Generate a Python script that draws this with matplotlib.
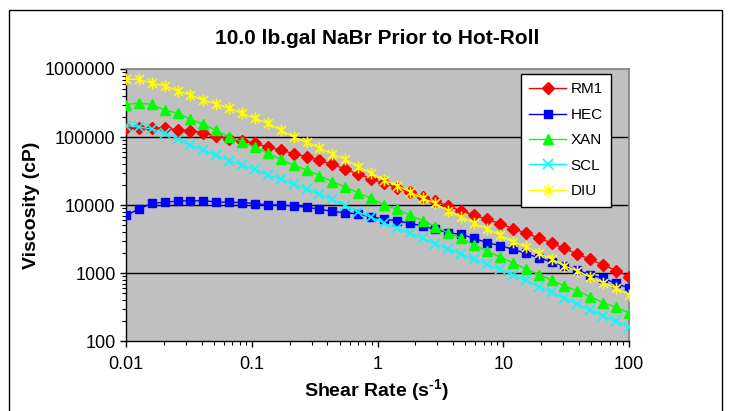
import matplotlib
matplotlib.use("Agg")
import matplotlib.pyplot as plt
from matplotlib.path import Path

plt.rcParams['font.family'] = ['Liberation Sans', 'DejaVu Sans']
plt.rcParams['mathtext.fontset'] = 'custom'
plt.rcParams['mathtext.rm'] = 'Liberation Sans:bold'
plt.rcParams['mathtext.bf'] = 'Liberation Sans:bold'

# ---- data ----
shear_rate = [0.01, 0.012663, 0.016035, 0.020305, 0.025713, 0.032561, 0.041232,
              0.052214, 0.066119, 0.083729, 0.10603, 0.13427, 0.17003, 0.21531,
              0.27265, 0.34527, 0.43722, 0.55366, 0.70112, 0.88785, 1.1243,
              1.4237, 1.8029, 2.2831, 2.8912, 3.6612, 4.6362, 5.8710, 7.4346,
              9.4147, 11.922, 15.097, 19.118, 24.210, 30.658, 38.823, 49.163,
              62.257, 78.838, 100.0]

rm1 = [134300, 134300, 134300, 137000, 126700, 124600, 115700, 103400, 94100,
       87900, 80800, 71300, 64400, 56800, 51300, 45440, 39670, 33610, 28570,
       24370, 20850, 17900, 15270, 13110, 11260, 9670, 8160, 7130, 6160, 5310,
       4510, 3875, 3270, 2762, 2293, 1903, 1590, 1311, 1088, 888]

hec = [7010, 8734, 10590, 10960, 11450, 11530, 11530, 11100, 10960, 10850,
       10520, 10070, 10000, 9667, 9252, 8734, 8025, 7706, 7372, 6706, 6184,
       5876, 5381, 4912, 4391, 3914, 3683, 3238, 2790, 2537, 2231, 1949, 1662,
       1467, 1267, 1107, 934, 836, 706, 596]

xan = [298500, 316200, 300600, 249600, 223100, 182700, 154200, 125100, 100000,
       85000, 70560, 57590, 47000, 38360, 32700, 27150, 22000, 18390, 15170,
       12550, 10170, 8645, 7128, 5876, 4797, 3874, 3238, 2581, 2106, 1719, 1418,
       1157, 950, 789, 644, 544, 448, 368, 311, 261]

scl = [147600, 140300, 131100, 114500, 95040, 76270, 64410, 53450, 45120,
       38740, 33280, 27620, 23880, 20160, 17190, 14370, 12130, 9830, 7890, 6594,
       5436, 4544, 3836, 3238, 2670, 2254, 1903, 1590, 1334, 1126, 934, 776,
       633, 517, 425, 350, 286, 233, 194, 162]

diu = [706000, 706000, 616000, 568000, 475000, 414700, 350000, 305800, 264300,
       223100, 188400, 159000, 126700, 100000, 83600, 69600, 56200, 47000, 36600,
       29550, 23300, 19350, 15690, 12550, 10590, 8160, 6660, 5380, 4440, 3620,
       2886, 2437, 1949, 1607, 1267, 1081, 865, 720, 596, 475]

series_names = ['RM1', 'HEC', 'XAN', 'SCL', 'DIU']
x_ticks = [0.01, 0.1, 1, 10, 100]
x_tick_labels = ['0.01', '0.1', '1', '10', '100']
y_ticks = [100, 1000, 10000, 100000, 1000000]
y_tick_labels = ['100', '1000', '10000', '100000', '1000000']

# Excel-like asterisk marker: vertical bar + X
star_path = Path([(0, -1), (0, 1), (-0.75, -0.75), (0.75, 0.75), (-0.75, 0.75), (0.75, -0.75)],
                 [Path.MOVETO, Path.LINETO, Path.MOVETO, Path.LINETO, Path.MOVETO, Path.LINETO])

W, H = 730, 411
fig = plt.figure(figsize=(W / 100, H / 100), dpi=100)
fig.patch.set_facecolor('white')

# outer chart frame
frame = plt.Rectangle((9 / W, -0.05), (722 - 9) / W, 1.05 - 10 / H,
                      transform=fig.transFigure, fill=False, edgecolor='black', linewidth=1.0)
fig.patches.append(frame)

L, R, T, B = 126, 629, 69, 341
ax = fig.add_axes([L / W, 1 - B / H, (R - L) / W, (B - T) / H])
ax.set_facecolor('#C0C0C0')
ax.set_xscale('log')
ax.set_yscale('log')
ax.set_xlim(0.01, 100)
ax.set_ylim(100, 1000000)

for yv in [1000, 10000, 100000]:
    ax.axhline(yv, color='black', linewidth=1.0, zorder=1)

styles = [
    dict(color='#FF0000', marker='D', markersize=6, mfc='#FF0000', mec='#FF0000'),
    dict(color='#0000FF', marker='s', markersize=6, mfc='#0000FF', mec='#0000FF'),
    dict(color='#00FF00', marker='^', markersize=7, mfc='#00FF00', mec='#00FF00'),
    dict(color='#00FFFF', marker='x', markersize=6.5, mew=1.2, mec='#00FFFF'),
    dict(color='#FFFF00', marker=star_path, markersize=8.5, mew=1.2, mec='#FFFF00'),
]
for data, name, st in zip([rm1, hec, xan, scl, diu], series_names, styles):
    ax.plot(shear_rate, data, label=name, linewidth=1.0, zorder=3, **st)

for s in ['top', 'right']:
    ax.spines[s].set_color('#808080')
    ax.spines[s].set_linewidth(1.2)
for s in ['left', 'bottom']:
    ax.spines[s].set_color('black')
    ax.spines[s].set_linewidth(1.0)

ax.set_xticks(x_ticks)
ax.set_xticklabels(x_tick_labels)
ax.set_yticks(y_ticks)
ax.set_yticklabels(y_tick_labels)
ax.tick_params(axis='both', which='major', direction='out', length=4.5, width=1,
               labelsize=13, color='black')
ax.tick_params(axis='both', which='minor', direction='out', length=3, width=0.8, color='black')
ax.tick_params(axis='x', which='major', pad=6)
ax.tick_params(axis='y', which='major', pad=3)
ax.yaxis.set_minor_formatter(matplotlib.ticker.NullFormatter())
ax.xaxis.set_minor_formatter(matplotlib.ticker.NullFormatter())

fig.text(377 / W, 1 - 38 / H, '10.0 lb.gal NaBr Prior to Hot-Roll', ha='center', va='center',
         fontsize=15, fontweight='bold')
fig.text(377 / W, 1 - 391 / H, r'Shear Rate (s$^{\text{-1}}$)', ha='center', va='center',
         fontsize=14, fontweight='bold')
fig.text(31 / W, 1 - 205 / H, 'Viscosity (cP)', ha='center', va='center', rotation=90,
         fontsize=14, fontweight='bold')

leg = ax.legend(loc='upper left', bbox_to_anchor=(521 / W, 1 - 74 / H),
                bbox_transform=fig.transFigure, borderaxespad=0, fancybox=False,
                framealpha=1, edgecolor='black', fontsize=11, handlelength=2.4,
                handletextpad=0.3, labelspacing=0.75, borderpad=0.55)
leg.get_frame().set_linewidth(1.0)

fig.savefig('out.png', dpi=100)
